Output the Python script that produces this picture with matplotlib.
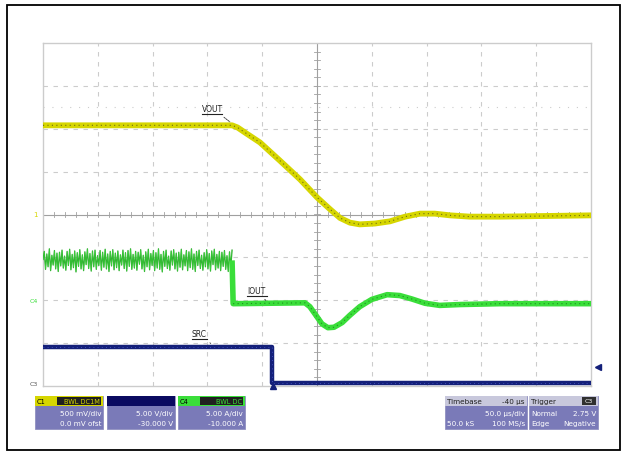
import matplotlib
matplotlib.use("Agg")
import matplotlib.pyplot as plt
import numpy as np
from matplotlib.patches import Rectangle

# screen units are divisions: x -5..5 (50 us/div), y -4..4
vout_t = [-5.0, -1.55, -1.45, -1.30, -1.04, -0.68, -0.31, 0.0, 0.24, 0.42, 0.60,
          0.78, 1.06, 1.33, 1.61, 1.88, 2.15, 2.43, 2.79, 3.34, 5.0]
vout_v = [2.08, 2.08, 2.03, 1.90, 1.68, 1.26, 0.82, 0.40, 0.12, -0.08, -0.19,
          -0.23, -0.21, -0.16, -0.05, 0.02, 0.02, -0.02, -0.05, -0.05, -0.02]

# inductor ripple before the step, then the load-step response
iout_ripple = [-1.05, -0.86, -1.28, -0.92, -1.22, -0.80, -1.31, -0.95, -1.18, -0.84,
               -1.27, -0.90, -1.33, -0.88, -1.20, -0.83, -1.25, -0.97, -1.30, -0.86,
               -1.19, -0.81, -1.29, -0.93, -1.24, -0.85, -1.34, -0.89, -1.21, -0.82,
               -1.27, -0.94, -1.31, -0.87, -1.17, -0.80, -1.26, -0.91, -1.32, -0.85,
               -1.22, -0.83, -1.28, -0.96, -1.19, -0.84, -1.30, -0.88, -1.23, -0.81,
               -1.27, -0.92, -1.33, -0.86, -1.20, -0.82, -1.29, -0.90, -1.24, -0.85,
               -1.31, -0.94, -1.18, -0.83, -1.26, -0.89, -1.32, -0.84, -1.21, -0.80,
               -1.28, -0.93, -1.25, -0.86, -1.30, -0.88, -1.16, -0.82, -1.27, -0.95,
               -1.33, -0.87, -1.22, -0.81, -1.29, -0.91, -1.19, -0.84, -1.31, -0.89,
               -1.25, -0.80, -1.28, -0.93, -1.34, -0.86, -1.21, -0.83, -1.26, -0.97,
               -1.30, -0.85, -1.18, -0.82, -1.27, -0.90, -1.32, -0.88, -1.23, -0.81,
               -1.29, -0.94, -1.20, -0.84, -1.31, -0.87, -1.24, -0.80, -1.28, -0.92,
               -1.33, -0.86, -1.19, -0.83, -1.26, -0.95, -1.30, -0.89, -1.22, -0.82,
               -1.27, -0.91, -1.32, -0.85, -1.17, -0.81, -1.29, -0.93, -1.25, -0.86,
               -1.31, -0.88, -1.21, -0.84, -1.28, -0.96, -1.33, -0.87, -1.23, -0.83]
iout_t = [-1.55, -1.53, -0.22, -0.13, -0.02, 0.09, 0.20, 0.31, 0.46, 0.60, 0.78,
          1.00, 1.28, 1.51, 1.73, 1.97, 2.24, 2.61, 3.34, 5.0]
iout_v = [-1.07, -2.08, -2.06, -2.15, -2.35, -2.55, -2.64, -2.63, -2.52, -2.35, -2.15,
          -1.98, -1.87, -1.89, -1.97, -2.07, -2.12, -2.10, -2.08, -2.08]

src_t = [-5.0, -0.82, -0.82, 5.0]
src_v = [-3.08, -3.08, -3.93, -3.93]

trig_t = -0.80
trig_level = -3.55

YEL, YEL_D = "#d6d600", "#6e6e10"
GRN, GRN_D = "#3ade3a", "#1f8f1f"
BLU = "#14207a"
GRIDC = "#cccccc"
BODY = "#7a7ab8"

fig = plt.figure(figsize=(6.22, 4.52), dpi=100)
fig.patch.set_facecolor("white")

W, H = 622, 452
x0, y0, x1, y1 = 43, 44, 591, 387
ax = fig.add_axes([x0 / W, 1 - y1 / H, (x1 - x0) / W, (y1 - y0) / H])
ax.set_xlim(-5, 5)
ax.set_ylim(-4, 4)
ax.set_xticks([])
ax.set_yticks([])
for s in ax.spines.values():
    s.set_color(GRIDC)
    s.set_linewidth(1.0)

# graticule
for gx in range(-4, 5):
    if gx != 0:
        ax.axvline(gx, color=GRIDC, lw=0.8, ls=(0, (4, 5)), zorder=0)
for gy in range(-3, 4):
    if gy != 0:
        ax.axhline(gy, color=GRIDC, lw=0.8, ls=(0, (4, 5)), zorder=0)
ax.axhline(2.5, color=GRIDC, lw=0.8, ls=(0, (1, 7)), zorder=0)
ax.axvline(0, color="#a0a0a0", lw=0.8, zorder=0)
ax.axhline(0, color="#a0a0a0", lw=0.8, zorder=0)
for m in np.arange(-5, 5.01, 0.2):
    ax.plot([m, m], [-0.06, 0.06], color="#a0a0a0", lw=0.6, zorder=0)
for m in np.arange(-4, 4.01, 0.2):
    ax.plot([-0.06, 0.06], [m, m], color="#a0a0a0", lw=0.6, zorder=0)

# traces
rt = -5.0 + np.arange(len(iout_ripple)) * (3.45 / (len(iout_ripple) - 1))
ax.plot(rt, iout_ripple, color="#2fa52f", lw=0.9, zorder=3)
ax.plot(rt, iout_ripple, color=GRN, lw=0.3, zorder=3)
ax.plot(iout_t, iout_v, color=GRN, lw=4.0, solid_capstyle="butt", zorder=3)
ax.plot(iout_t[1:], iout_v[1:], color=GRN_D, lw=0.8, ls=(0, (1, 3)), zorder=3)

ax.plot(vout_t, vout_v, color=YEL, lw=4.2, solid_capstyle="butt", zorder=4)
ax.plot(vout_t, vout_v, color=YEL_D, lw=0.8, ls=(0, (1, 3)), zorder=4)

ax.plot(src_t, src_v, color=BLU, lw=3.2, solid_capstyle="butt", zorder=5)
ax.plot(src_t, src_v, color="#4a5ad0", lw=0.6, ls=(0, (1, 4)), zorder=5)

# trace labels (underlined, dashed leader)
arr = dict(arrowstyle="-", color="#333333", lw=0.6, ls=(0, (2, 1)))
for txt, xy, xt in [("VOUT", (-1.55, 2.12), (-2.1, 2.42)),
                    ("IOUT", (-0.90, -2.05), (-1.28, -1.82)),
                    ("SRC", (-1.90, -3.05), (-2.29, -2.84))]:
    a = ax.annotate(txt, xy=xy, xytext=xt, arrowprops=arr, fontsize=5.5,
                    color="#222222", zorder=6)
    w = 0.07 * len(txt) + 0.08
    ax.plot([xt[0], xt[0] + w], [xt[1] - 0.07, xt[1] - 0.07], color="#222222", lw=0.8, zorder=6)

# trigger position and level markers
ax.plot([trig_t], [-4.0], marker="^", color=BLU, ms=4, clip_on=False, zorder=7)
ax.plot([5.12], [trig_level], marker="<", color=BLU, ms=4, clip_on=False, zorder=7)

# channel ground markers
ax.text(-5.1, 0.0, "1", color=YEL, fontsize=5, ha="right", va="center")
ax.text(-5.1, -2.0, "C4", color=GRN, fontsize=4.5, ha="right", va="center")
ax.text(-5.1, -3.95, "C3", color="#555555", fontsize=4.5, ha="right", va="center")

# overlay in pixel coordinates: frame and readout boxes
ov = fig.add_axes([0, 0, 1, 1], facecolor="none")
ov.set_xlim(0, W)
ov.set_ylim(H, 0)
ov.axis("off")
ov.add_patch(Rectangle((6.5, 5.5), 613, 445, fill=False, ec="black", lw=1.3))

boxes = [
    (35, 103, YEL, "C1", "BWL DC1M", "black", ["500 mV/div", "0.0 mV ofst"]),
    (107, 175, "#0a0a60", "", "", "white", ["5.00 V/div", "-30.000 V"]),
    (178, 245, "#3ade3a", "C4", "BWL DC", "black", ["5.00 A/div", "-10.000 A"]),
]
for bx0, bx1, c_top, tag, tagtxt, tcol, lines in boxes:
    ov.add_patch(Rectangle((bx0, 397), bx1 - bx0, 33, fc=BODY, ec="#9090c0", lw=0.6))
    ov.add_patch(Rectangle((bx0, 397), bx1 - bx0, 10, fc=c_top, ec="none"))
    if tagtxt:
        ov.add_patch(Rectangle((bx0 + 22, 398), bx1 - bx0 - 24, 8, fc="#202020", ec="none"))
        ov.text(bx1 - 3, 402, tagtxt, color=c_top, fontsize=4.8, ha="right", va="center")
    if tag:
        ov.text(bx0 + 2, 402, tag, color=tcol, fontsize=4.8, ha="left", va="center")
    ov.text(bx1 - 2, 414, lines[0], color="white", fontsize=5.2, ha="right", va="center")
    ov.text(bx1 - 2, 424, lines[1], color="white", fontsize=5.2, ha="right", va="center")

# timebase and trigger readouts
for bx0, bx1 in [(445, 527), (529, 598)]:
    ov.add_patch(Rectangle((bx0, 397), bx1 - bx0, 33, fc=BODY, ec="#9090c0", lw=0.6))
    ov.add_patch(Rectangle((bx0, 397), bx1 - bx0, 10, fc="#c8c8dc", ec="none"))
rd = dict(fontsize=5.2, va="center")
ov.text(447, 402, "Timebase", color="#202020", ha="left", **rd)
ov.text(525, 402, "-40 µs", color="#202020", ha="right", **rd)
ov.text(525, 414, "50.0 µs/div", color="white", ha="right", **rd)
ov.text(447, 424, "50.0 kS", color="white", ha="left", **rd)
ov.text(525, 424, "100 MS/s", color="white", ha="right", **rd)
ov.text(531, 402, "Trigger", color="#202020", ha="left", **rd)
ov.add_patch(Rectangle((582, 398), 14, 8, fc="#303030", ec="none"))
ov.text(589, 402, "C3", color="white", ha="center", fontsize=4.5, va="center")
ov.text(531, 414, "Normal", color="white", ha="left", **rd)
ov.text(596, 414, "2.75 V", color="white", ha="right", **rd)
ov.text(531, 424, "Edge", color="white", ha="left", **rd)
ov.text(596, 424, "Negative", color="white", ha="right", **rd)

fig.savefig("out.png", dpi=100, facecolor="white")
